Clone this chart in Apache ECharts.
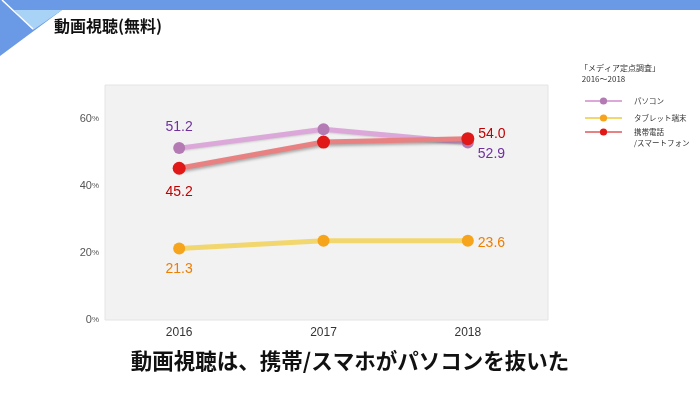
<!DOCTYPE html>
<html><head><meta charset="utf-8">
<script src="https://cdn.jsdelivr.net/npm/echarts@6/dist/echarts.min.js"></script>
<style>html,body{margin:0;padding:0;background:#fff}#c{width:700px;height:394px}</style>
</head><body><div id="c"></div>
<script>
const years = ['2016', '2017', '2018'];
const pcValues = [51.2, 56.8, 52.9];
const tabletValues = [21.3, 23.6, 23.6];
const phoneValues = [45.2, 53.0, 54.0];
const seriesNames = ['パソコン', 'タブレット端末', '携帯電話/スマートフォン'];
const yTicks = [0, 20, 40, 60];

const chart = echarts.init(document.getElementById('c'));
const F = '"Liberation Sans Narrow","Liberation Sans",Arial,sans-serif';
const JP = '"Noto Sans CJK JP",sans-serif';

function mkData(vals, color, pos0, pos2, off0, off2) {
  return vals.map((v, i) => {
    const d = { value: v };
    if (i === 0 || i === 2) {
      d.label = { show: true, position: i === 0 ? pos0 : pos2, offset: i === 0 ? off0 : off2,
        color: color, fontSize: 14, fontFamily: F, distance: 6,
        formatter: p => p.value.toFixed(1) };
    }
    return d;
  });
}
const legendText = { fontSize: 7.5, fontFamily: JP, color: '#333', padding: [0, 0, 0, 7], lineHeight: 11 };

chart.setOption({
  animation: false,
  graphic: [
    { type: 'polygon', shape: { points: [[0,0],[700,0],[700,10],[62,10],[0,56]] }, style: { fill: '#6a9ae6' }, z: 1 },
    { type: 'polygon', shape: { points: [[14,10],[62,10],[33,30]] }, style: { fill: '#a9d2f7' }, z: 2 },
    { type: 'line', shape: { x1: 2, y1: 0, x2: 33, y2: 29 }, style: { stroke: '#ffffff', lineWidth: 1.5 }, z: 3 },
    { type: 'text', left: 54, top: 18, style: { text: '動画視聴(無料)', font: 'bold 16px ' + JP, fill: '#111' }, z: 3 },
    { type: 'rect', shape: { x: 105, y: 85, width: 443, height: 235 }, style: { fill: '#f2f2f2', stroke: '#e4e4e4', lineWidth: 1 }, z: -10 },
    { type: 'text', left: 580, top: 62, style: { text: '「メディア定点調査」\n 2016～2018', font: '8px ' + JP, fill: '#333', lineHeight: 11 }, z: 3 },
    { type: 'text', left: 'center', top: 350, style: { text: '動画視聴は、携帯/スマホがパソコンを抜いた', font: 'bold 21.5px ' + JP, fill: '#111' }, z: 3 }
  ],
  legend: [
    { orient: 'vertical', left: 579, top: 90.5, itemWidth: 37, itemHeight: 9, itemGap: 6,
      data: [seriesNames[0], seriesNames[1]], textStyle: legendText },
    { orient: 'vertical', left: 579, top: 110.5, itemWidth: 37, itemHeight: 9, itemGap: 5,
      data: [seriesNames[2]],
      formatter: () => ' \n携帯電話\n/スマートフォン',
      textStyle: legendText }
  ],
  grid: { left: 107, width: 433, top: 85, bottom: 74 },
  xAxis: {
    type: 'category', data: years, boundaryGap: true,
    axisLine: { show: false }, axisTick: { show: false },
    axisLabel: { color: '#333', fontSize: 12, fontFamily: F, margin: 7 }
  },
  yAxis: {
    type: 'value', min: 0, max: 70, interval: 20,
    splitLine: { show: false },
    axisLine: { show: false },
    axisTick: { show: false },
    axisLabel: {
      margin: 8, color: '#555', fontFamily: F, fontSize: 11,
      formatter: v => yTicks.indexOf(v) >= 0 ? v + '{p|%}' : '',
      rich: { p: { fontSize: 8, color: '#555', fontFamily: F } }
    }
  },
  series: [
    { name: seriesNames[1], type: 'line', data: mkData(tabletValues, '#ee7d00', 'bottom', 'right', [0, 2], [-2, 2]),
      symbol: 'circle', symbolSize: 12, itemStyle: { color: '#f5a41c' },
      lineStyle: { color: '#f2d76e', width: 5 }, z: 2 },
    { name: seriesNames[0], type: 'line', data: mkData(pcValues, '#7030a0', 'top', 'right', [0, -2], [-2, 12]),
      symbol: 'circle', symbolSize: 12, itemStyle: { color: '#b47ab4' },
      lineStyle: { color: '#dca8da', width: 5, shadowColor: 'rgba(0,0,0,0.15)', shadowBlur: 2, shadowOffsetY: 1 }, z: 3 },
    { name: seriesNames[2], type: 'line', data: mkData(phoneValues, '#c00000', 'bottom', 'right', [0, 4], [-2, -5]),
      symbol: 'circle', symbolSize: 13, itemStyle: { color: '#e01818' },
      lineStyle: { color: '#e88282', width: 5, shadowColor: 'rgba(0,0,0,0.3)', shadowBlur: 3, shadowOffsetY: 2 }, z: 4 }
  ]
});
</script></body></html>
